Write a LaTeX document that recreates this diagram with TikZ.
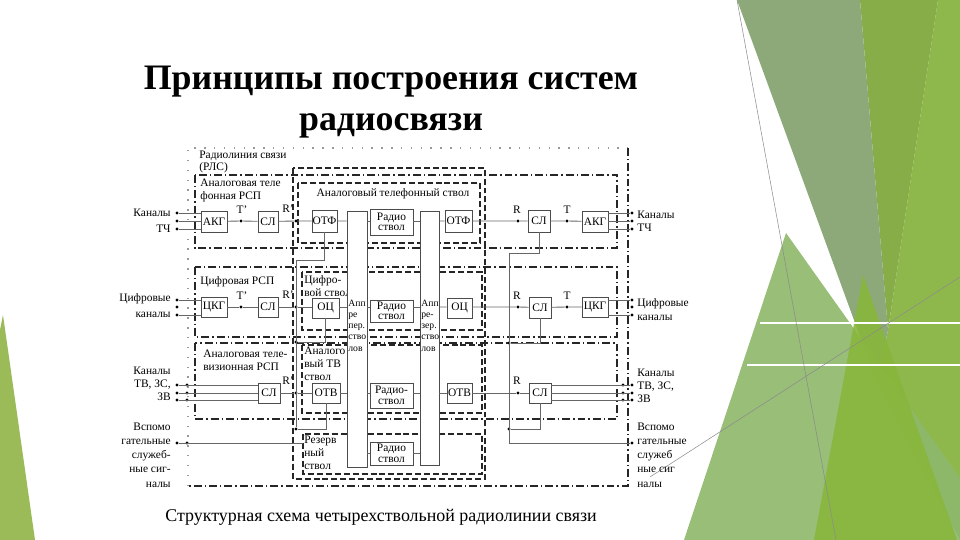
\documentclass[tikz,border=0pt]{standalone}
\usepackage{fontspec}
\setmainfont{Liberation Serif}
\usepackage{xcolor}
\usetikzlibrary{positioning, arrows.meta}
\definecolor{leafgray}{HTML}{8DA979}
\definecolor{leafolive}{HTML}{86AD48}
\definecolor{leaflight}{HTML}{8EB84C}
\definecolor{leafpale}{HTML}{8FB86C}
\definecolor{leafbright}{HTML}{88B63B}
\definecolor{leafleft}{HTML}{9BBB59}
\newcommand\dfont{\fontsize{6.5}{7.4}\selectfont}
\newcommand\bfont{\fontsize{6.5}{6}\selectfont}

\tikzset{
  blk/.style={draw=black!70, fill=white, inner sep=0pt, font=\bfont, align=center},
  bsz/.style 2 args={minimum width=#1*0.02cm, minimum height=#2*0.02cm},
  jn/.style={circle, fill=black, inner sep=0pt, minimum size=0.065cm},
  frm/.style={draw=black!85, line width=0.6pt, dash pattern=on 4.5pt off 1.7pt on 0.8pt off 1.7pt},
  stv/.style={draw=black!85, line width=0.6pt, dash pattern=on 3.4pt off 1.7pt},
  faint/.style={draw=black!40, line width=0.6pt, dash pattern=on 0.8pt off 4.8pt},
  lbl/.style={font=\dfont, inner sep=0pt},
  wr/.style={draw=black!60, line width=0.5pt},
}

\begin{document}
\begin{tikzpicture}[x=0.02cm, y=-0.02cm]
\useasboundingbox (0,0) rectangle (960,540);

% slide decoration
\fill[leafleft] (3,315) -- (35,540) -- (0,540) -- (0,330) -- cycle;
\fill[leaflight] (938,0) -- (960,0) -- (960,540) -- (877,383) -- (888,330) -- cycle;
\fill[leafolive] (860,0) -- (938,0) -- (888,330) -- cycle;
\fill[leafgray] (737,0) -- (860,0) -- (888,330) -- (877,383) -- cycle;
\fill[leafpale, opacity=0.92] (786,233) -- (684,540) -- (960,540) -- (960,478) -- cycle;
\fill[leafbright, opacity=0.9] (863,275) -- (814,540) -- (957,540) -- cycle;
\draw[white, line width=1pt] (760,323) -- (960,323) (747,365) -- (960,365);
\draw[black!45, line width=0.3pt] (737,0) -- (836,540) (650,477) -- (960,277);

% title and caption
\node[font=\fontsize{20.4}{23.2}\selectfont\bfseries, align=center, anchor=north, inner sep=0pt] (title) at (391,66) {Принципы построения систем\\радиосвязи};
\node[font=\fontsize{10.2}{12}\selectfont] (capt) at (381,517) {Структурная схема четырехствольной радиолинии связи};

% frames
\draw[faint] (188,486) -- (188,148) -- (628,148);
\draw[frm] (628,148) -- (628,486) -- (188,486);
\draw[frm] (195,175) rectangle (617,248);
\draw[frm] (195,267) rectangle (617,337);
\draw[frm] (195,343) rectangle (617,419);
\draw[stv] (293,168) rectangle (485,479);
\draw[stv] (298,183) rectangle (480,243);
\draw[stv] (302,272) rectangle (482,330);
\draw[stv] (302,345) rectangle (482,413);
\draw[stv] (303,434) rectangle (482,474);

\node[lbl, anchor=north west, align=left, font=\fontsize{6.5}{6.9}\selectfont] (rlsl) at (199,151) {Радиолиния связи\\(РЛС)};
\node[lbl, anchor=north west, align=left] (rsp1l) at (200,179) {Аналоговая теле\\фонная РСП};
\node[lbl, anchor=west] (rsp2l) at (200,282) {Цифровая РСП};
\node[lbl, anchor=north west, align=left] (rsp3l) at (203,350) {Аналоговая теле-\\визионная РСП};
\node[lbl] (ch1l) at (393,194) {Аналоговый телефонный ствол};
\node[lbl, anchor=north west, align=left] (ch2l) at (304,275) {Цифро-\\вой ствол};
\node[lbl, anchor=north west, align=left] (ch3l) at (304,347) {Аналого\\вый ТВ\\ствол};
\node[lbl, anchor=north west, align=left] (ch4l) at (304,436) {Резерв\\ный\\ствол};

% apparatus columns
\node[blk, bsz={20}{256}] (appL) at (357,339) {};
\node[blk, bsz={19}{254}] (appR) at (429.5,338) {};
\node[font=\fontsize{5.5}{6.3}\selectfont, inner sep=0pt, anchor=north west, align=left] (appLt) at (348,300) {Апп\\ре\\пер.\\ство\\лов};
\node[font=\fontsize{5.5}{6.3}\selectfont, inner sep=0pt, anchor=north west, align=left] (appRt) at (421,300) {Апп\\ре-\\зер.\\ство\\лов};

% row 1
\node[blk, bsz={26}{21}] (akgL) at (214,221.5) {АКГ};
\node[blk, bsz={20}{21}] (slL1) at (268,221.5) {СЛ};
\node[blk, bsz={25}{22}] (otfL) at (324.5,221) {ОТФ};
\node[blk, bsz={43}{26}] (rad1) at (391.5,222) {Радио\\ствол};
\node[blk, bsz={27}{22}] (otfR) at (458.5,221) {ОТФ};
\node[blk, bsz={22}{22}] (slR1) at (539,221) {СЛ};
\node[blk, bsz={26}{21}] (akgR) at (595,221.5) {АКГ};

% row 2
\node[blk, bsz={26}{20}] (ckgL) at (214,307) {ЦКГ};
\node[blk, bsz={20}{20}] (slL2) at (268,307) {СЛ};
\node[blk, bsz={27}{20}] (ocL) at (325.5,308) {ОЦ};
\node[blk, bsz={43}{22}] (rad2) at (391.5,311) {Радио\\ствол};
\node[blk, bsz={25}{20}] (ocR) at (459.5,308) {ОЦ};
\node[blk, bsz={22}{21}] (slR2) at (540,307.5) {СЛ};
\node[blk, bsz={26}{20}] (ckgR) at (595,307) {ЦКГ};

% row 3 and reserve
\node[blk, bsz={22}{20}] (slL3) at (269,393) {СЛ};
\node[blk, bsz={28}{20}] (otvL) at (326,393) {ОТВ};
\node[blk, bsz={43}{25}] (rad3) at (391.5,395.5) {Радио-\\ствол};
\node[blk, bsz={25}{20}] (otvR) at (459.5,393) {ОТВ};
\node[blk, bsz={22}{20}] (slR3) at (540,393) {СЛ};
\node[blk, bsz={43}{23}] (rad4) at (391.5,453.5) {Радио\\ствол};

% points
\foreach \r/\y in {1/221, 2/307} {
  \node[jn] (tL\r) at (241,\y) {};
  \node[jn] (rL\r) at (296,\y) {};
  \node[jn] (rR\r) at (518,\y) {};
  \node[jn] (tR\r) at (567,\y) {};
  \node[lbl] at (242,\y-11) {T'};
  \node[lbl] at (288,\y-12) {R'};
  \node[lbl] at (517,\y-11) {R};
  \node[lbl] at (567,\y-11) {T};
}
\node[jn] (rL3) at (296,393) {};
\node[jn] (rR3) at (518,393) {};
\node[lbl] at (288,381) {R'};
\node[lbl] at (517,381) {R};

\foreach \n/\y in {a/213, b/221, c/229} {
  \node[jn] (in1\n) at (177,\y) {};
  \node[jn] (out1\n) at (632,\y) {};
  \draw[wr] (in1\n) -- (in1\n -| akgL.west);
  \draw[wr] (akgR.east |- out1\n) -- (out1\n);
}
\foreach \n/\y in {a/300, b/307, c/315} {
  \node[jn] (in2\n) at (177,\y) {};
  \node[jn] (out2\n) at (632,\y) {};
}
\foreach \n in {a, c} {
  \draw[wr] (in2\n) -- (in2\n -| ckgL.west);
  \draw[wr] (ckgR.east |- out2\n) -- (out2\n);
}
\foreach \n/\y in {a/385, b/393, c/400} {
  \node[jn] (in3\n) at (177,\y) {};
  \node[jn] (in3\n x) at (187,\y) {};
  \node[jn] (out3\n x) at (623,\y) {};
  \node[jn] (out3\n) at (632,\y) {};
  \draw[wr] (in3\n) -- (in3\n -| slL3.west);
  \draw[wr] (slR3.east |- out3\n) -- (out3\n);
}

% signal chains
\draw[wr] (akgL) -- (tL1) -- (slL1) -- (rL1) -- (otfL) -- (otfL -| appL.west);
\draw[wr] (appL.east |- otfL) -- (rad1.west |- otfL) (rad1.east |- otfL) -- (appR.west |- otfL);
\draw[wr] (appR.east |- otfL) -- (otfR) -- (rR1) -- (slR1) -- (tR1) -- (akgR);

\draw[wr] (ckgL) -- (tL2) -- (slL2) -- (rL2) -- (ocL.west |- rL2) (ocL.east |- rL2) -- (appL.west |- rL2);
\draw[wr] (appL.east |- rL2) -- (rad2.west |- rL2) (rad2.east |- rL2) -- (appR.west |- rL2);
\draw[wr] (appR.east |- rL2) -- (ocR.west |- rL2) (ocR.east |- rL2) -- (rR2) -- (slR2) -- (tR2) -- (ckgR);

\draw[wr] (slL3) -- (rL3) -- (otvL) -- (otvL -| appL.west);
\draw[wr] (appL.east |- otvL) -- (rad3.west |- otvL) (rad3.east |- otvL) -- (appR.west |- otvL);
\draw[wr] (appR.east |- otvL) -- (otvR) -- (rR3) -- (slR3);

\draw[wr] (appL.east |- rad4) -- (rad4) -- (appR.west |- rad4);

% service buses
\coordinate (bL) at (296,260);
\node[jn] (jL2) at (296,342) {};
\node[jn] (jL3) at (296,429) {};
\draw[wr] (otfL.south) |- (bL) -- (jL3);
\draw[wr] (ocL.south) |- (jL2);
\draw[wr] (otvL.south) |- (jL3);

\coordinate (bR) at (509,253);
\coordinate (bRb) at (509,443);
\node[jn] (jR2) at (509,343) {};
\node[jn] (jR3) at (509,429) {};
\node[jn] (auxR) at (632,443) {};
\draw[wr] (slR1.south) |- (bR) -- (bRb) -- (auxR);
\draw[wr] (slR2.south) |- (jR2);
\draw[wr] (slR3.south) |- (jR3);

\node[jn] (auxL) at (177,443) {};
\node[jn] (auxLx) at (187,443) {};
\coordinate (auxEnd) at (303,443);
\draw[wr] (auxL) -- (auxEnd);

% side labels
\node[lbl, anchor=east] (k1L) at (171,213) {Каналы};
\node[lbl, anchor=east] (c1L) at (171,229) {ТЧ};
\node[lbl, anchor=west] (k1R) at (637,215) {Каналы};
\node[lbl, anchor=west] (c1R) at (637,228) {ТЧ};
\node[lbl, anchor=east] (k2L) at (171,299) {Цифровые};
\node[lbl, anchor=east] (c2L) at (171,315) {каналы};
\node[lbl, anchor=west] (k2R) at (637,304) {Цифровые};
\node[lbl, anchor=west] (c2R) at (637,318) {каналы};
\node[lbl, anchor=north east, align=right] (k3L) at (171,367) {Каналы\\ТВ, ЗС,\\ЗВ};
\node[lbl, anchor=north west, align=left] (k3R) at (637,369) {Каналы\\ТВ, ЗС,\\ЗВ};
\node[lbl, anchor=north east, align=right, font=\fontsize{6.5}{8}\selectfont] (sL) at (171,423) {Вспомо\\гательные\\служеб-\\ные сиг-\\налы};
\node[lbl, anchor=north west, align=left, font=\fontsize{6.5}{8}\selectfont] (sR) at (637,423) {Вспомо\\гательные\\служеб\\ные сиг\\налы};
\end{tikzpicture}
\end{document}
